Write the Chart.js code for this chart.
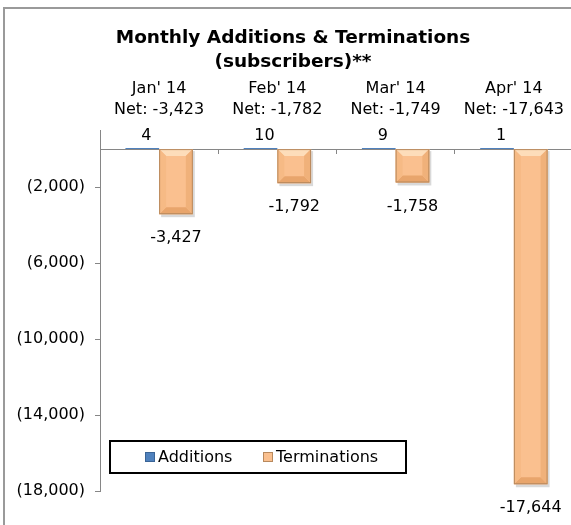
<!DOCTYPE html>
<html>
<head>
<meta charset="utf-8">
<script src="https://cdn.jsdelivr.net/npm/chart.js@4/dist/chart.umd.min.js"></script>
<style>
html,body{margin:0;padding:0;background:#fff;overflow:hidden}
#wrap{position:relative;width:586px;height:525px}
</style>
</head>
<body>
<div id="wrap"><canvas id="chart" width="586" height="525"></canvas></div>
<script>
const months=["Jan' 14","Feb' 14","Mar' 14","Apr' 14"];
const additions=[4,10,9,1];
const terminations=[-3427,-1792,-1758,-17644];
const yTicks=[-18000,-14000,-10000,-6000,-2000];
const yMin=-18000, yMax=1000;
const net=months.map((m,i)=>additions[i]+terminations[i]);

const FONT='"DejaVu Sans", Verdana, sans-serif';
const fmt=n=>(n<0?"-":"")+Math.abs(n).toLocaleString("en-US");
const AXIS="#868686";

// grey outer frame of the chart object
const framePlugin={id:"frame",beforeDraw(c){const x=c.ctx;x.save();x.strokeStyle="#9a9a9a";x.lineWidth=2;x.strokeRect(4,8,700,700);x.restore();}};

// excel-ish bevel on the termination bars
const bevelPlugin={id:"bevel",
  beforeDatasetsDraw(c){const ctx=c.ctx;ctx.save();
    c.getDatasetMeta(1).data.forEach(b=>{const p=b.getProps(["x","y","base","width"]);
      const l=p.x-p.width/2,t=Math.min(p.y,p.base),h=Math.abs(p.y-p.base);
      ctx.fillStyle="rgba(0,0,0,0.15)";ctx.fillRect(l+2,t+2,p.width,h+1);});
    ctx.restore();},
  afterDatasetsDraw(c){const ctx=c.ctx;ctx.save();
    c.getDatasetMeta(1).data.forEach(b=>{const p=b.getProps(["x","y","base","width"]);
      const l=p.x-p.width/2,r=p.x+p.width/2,t=Math.min(p.y,p.base),bt=Math.max(p.y,p.base);
      const k=Math.min(7,(bt-t)/2);
      const poly=(pts,col)=>{ctx.beginPath();ctx.moveTo(pts[0][0],pts[0][1]);pts.slice(1).forEach(q=>ctx.lineTo(q[0],q[1]));ctx.closePath();ctx.fillStyle=col;ctx.fill();};
      poly([[l,t],[r,t],[r-k,t+k],[l+k,t+k]],"#FDDDBA");
      poly([[l,bt],[r,bt],[r-k,bt-k],[l+k,bt-k]],"#E8A56C");
      poly([[l,t],[l+k,t+k],[l+k,bt-k],[l,bt]],"#F6BA85");
      poly([[r,t],[r-k,t+k],[r-k,bt-k],[r,bt]],"#F0B17A");
      ctx.strokeStyle="#B8895D";ctx.lineWidth=1;ctx.strokeRect(l+0.5,t+0.5,p.width-1,bt-t-1);});
    ctx.restore();}};

// value labels
const labelPlugin={id:"vlabels",afterDatasetsDraw(c){const ctx=c.ctx;ctx.save();
  ctx.font="16px "+FONT;ctx.fillStyle="#000";ctx.textAlign="center";ctx.textBaseline="middle";
  c.data.datasets.forEach((ds,di)=>{c.getDatasetMeta(di).data.forEach((b,i)=>{const v=ds.data[i];const p=b.getProps(["x","y","base"]);
    if(v>=0)ctx.fillText(fmt(v),p.x+4,p.base-13);else ctx.fillText(fmt(v),p.x,p.y+24);});});
  ctx.restore();}};

// boxed legend inside the plot, like the original
const legendPlugin={id:"boxlegend",afterDraw(c){const ctx=c.ctx;ctx.save();
  const bx=110,by=441,bw=296,bh=32;
  ctx.fillStyle="#fff";ctx.fillRect(bx,by,bw,bh);
  ctx.strokeStyle="#000";ctx.lineWidth=2;ctx.strokeRect(bx,by,bw,bh);
  ctx.font="16px "+FONT;ctx.textBaseline="middle";ctx.textAlign="left";
  const xs=[145,263];
  c.data.datasets.forEach((ds,i)=>{const x=xs[i],cy=by+bh/2;
    ctx.fillStyle=ds.backgroundColor;ctx.fillRect(x,cy-5,10,10);
    ctx.strokeStyle=ds.borderColor;ctx.lineWidth=1;ctx.strokeRect(x+0.5,cy-4.5,9,9);
    ctx.fillStyle="#000";ctx.fillText(ds.label,x+13,cy+1);});
  ctx.restore();}};

new Chart(document.getElementById("chart"),{
  type:"bar",
  data:{labels:months,datasets:[
    {label:"Additions",data:additions,backgroundColor:"#4F81BD",borderColor:"#3A6496",borderWidth:0,minBarLength:1,xAxisID:"x",yAxisID:"y"},
    {label:"Terminations",data:terminations,backgroundColor:"#FAC08F",borderColor:"#B8895D",borderWidth:0,xAxisID:"x",yAxisID:"y"}
  ]},
  options:{
    responsive:false,animation:false,
    datasets:{bar:{barPercentage:1,categoryPercentage:0.57}},
    layout:{padding:{left:0,right:0,top:0,bottom:34}},
    plugins:{
      legend:{display:false},tooltip:{enabled:false},
      title:{display:true,text:["Monthly Additions & Terminations","(subscribers)**"],color:"#000",
        font:{family:FONT,size:18.5,weight:"bold",lineHeight:1.3},padding:{top:26,bottom:0}}
    },
    scales:{
      x:{type:"category",position:{y:0},offset:true,z:1,
        grid:{offset:true,drawOnChartArea:false,drawTicks:true,tickLength:4,color:AXIS},
        border:{color:AXIS,width:1},ticks:{display:false}},
      x2:{type:"category",position:"top",offset:true,labels:months,
        grid:{display:false},border:{display:false},
        ticks:{color:"#000",font:{family:FONT,size:16,lineHeight:1.3},padding:2,maxRotation:0,autoSkip:false,
          callback:(v,i)=>[months[i],"Net: "+fmt(net[i])]},
        afterFit:s=>{s.height=56;}},
      y:{min:yMin,max:yMax,
        afterBuildTicks:s=>{s.ticks=yTicks.map(v=>({value:v}));},
        afterFit:s=>{s.width=100;},
        grid:{drawOnChartArea:false,drawTicks:true,tickLength:5,color:AXIS},
        border:{color:AXIS,width:1},
        ticks:{color:"#000",padding:10,font:{family:FONT,size:16},
          callback:v=>"("+Math.abs(v).toLocaleString("en-US")+")"}},
      // empty right-hand spacer so the plot runs just past the window edge
      y2:{position:"right",min:yMin,max:yMax,grid:{display:false},border:{display:false},ticks:{display:false},
        afterFit:s=>{s.width=13;}}
    }
  },
  plugins:[framePlugin,bevelPlugin,labelPlugin,legendPlugin]
});
</script>
</body>
</html>
